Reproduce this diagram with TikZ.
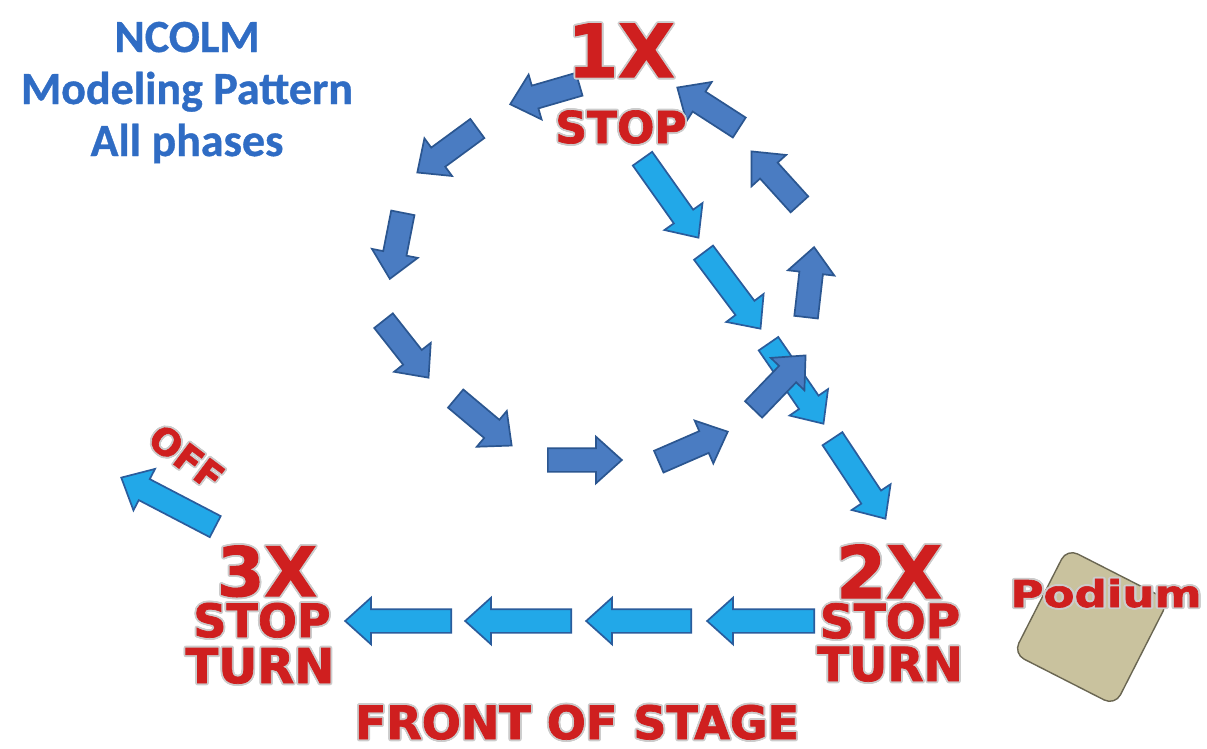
\documentclass[tikz,border=0pt]{standalone}
\usepackage{fontspec}
\usepackage{contour}
\usetikzlibrary{shapes.arrows,calc}
\newfontfamily\heavyfont{DejaVu Sans}[BoldFeatures={FakeBold=1.6}]
\newfontfamily\titlefont{Carlito}[BoldFeatures={FakeBold=0.8}]
\definecolor{dkfill}{HTML}{4A7CC2}
\definecolor{dkline}{HTML}{2B5690}
\definecolor{ltfill}{HTML}{22A8E8}
\definecolor{ltline}{HTML}{2A5C9C}
\definecolor{lblred}{HTML}{CF1F1F}
\definecolor{ttlblue}{HTML}{2F6CC4}
\definecolor{podfill}{HTML}{C9C29E}
\definecolor{podline}{HTML}{6A6652}
\contourlength{1.8pt}
\newcommand\halo[1]{\contour[16]{gray!40}{#1}}
\newcommand\blockarrow[4]{%
  \path let \p1=#3, \p2=#4, \n1={atan2(\y2-\y1,\x2-\x1)}, \n2={veclen(\x2-\x1,\y2-\y1)} in
    node[#2, minimum height=\n2, rotate=\n1, anchor=tail] (#1) at (\p1) {};}
\tikzset{
  arr/.style={single arrow, inner xsep=0pt, inner ysep=11pt, single arrow head extend=11.5pt,
    single arrow tip angle=84, line width=1.7pt, line join=miter},
  darr/.style={arr, draw=dkline, fill=dkfill},
  larr/.style={arr, draw=ltline, fill=ltfill},
  redlbl/.style={text=lblred, inner sep=0pt, anchor=base},
  ttl/.style={text=ttlblue, inner sep=0pt, anchor=base, font=\titlefont\bfseries\fontsize{46}{46}\selectfont},
}
\newcommand\heavy[1]{\heavyfont\bfseries\fontsize{#1}{#1}\selectfont}
\begin{document}
\begin{tikzpicture}[x=1pt,y=-1pt]
\useasboundingbox[fill=white] (0,0) rectangle (1207,748);
% title
\node[ttl] (t1) at (187,52) {NCOLM};
\node[ttl] (t2) at (187,104) {Modeling Pattern};
\node[ttl] (t3) at (187,156) {All phases};
% podium
\node[draw=podline, fill=podfill, line width=1.4pt, rounded corners=12pt,
      minimum width=114pt, minimum height=118pt, rotate=-27] (podium) at (1091,627) {};
% light arrows (1X -> 2X)
\blockarrow{l1}{larr}{(642,158)}{(698,237)}
\blockarrow{l2}{larr}{(703,252)}{(760,328)}
\blockarrow{l3}{larr}{(768,343)}{(823,423)}
\blockarrow{l4}{larr}{(832,438)}{(885,518)}
% light arrows (2X -> 3X)
\blockarrow{b1}{larr}{(815,621)}{(708,621)}
\blockarrow{b2}{larr}{(692,621)}{(587,621)}
\blockarrow{b3}{larr}{(572,621)}{(466,621)}
\blockarrow{b4}{larr}{(452,621)}{(346,621)}
\blockarrow{off}{larr}{(216,527)}{(122,478)}
% dark loop
\blockarrow{d1}{darr}{(580,84)}{(511,104)}
\blockarrow{d2}{darr}{(478,128)}{(418,172)}
\blockarrow{d3}{darr}{(403,212)}{(390,278)}
\blockarrow{d4}{darr}{(383,320)}{(428,377)}
\blockarrow{d5}{darr}{(455,398)}{(511,445)}
\blockarrow{d6}{darr}{(547,460)}{(621,460)}
\blockarrow{d7}{darr}{(658,462)}{(727,432)}
\blockarrow{d8}{darr}{(753,410)}{(805,356)}
\blockarrow{d9}{darr}{(806,318)}{(814,248)}
\blockarrow{d10}{darr}{(800,205)}{(752,152)}
\blockarrow{d11}{darr}{(740,128)}{(678,88)}
% red labels
\node[redlbl, font=\heavy{73}] (x1) at (621,77) {\halo{1X}};
\node[redlbl, font=\heavy{44}] (s1) at (621,143) {\halo{STOP}};
\node[redlbl, font=\heavy{72}] (x2) at (889,598) {\halo{2X}};
\node[redlbl, font=\heavy{47}] (s2) at (890,638) {\halo{STOP}};
\node[redlbl, font=\heavy{47}] (r2) at (890,681) {\halo{TURN}};
\node[redlbl, font=\heavy{68}] (x3) at (267,596) {\halo{3X}};
\node[redlbl, font=\heavy{46}] (s3) at (262,637) {\halo{STOP}};
\node[redlbl, font=\heavy{48}] (r3) at (260,683) {\halo{TURN}};
\node[redlbl, font=\heavy{37}, xscale=1.22] (pod) at (1106,607) {\halo{Podium}};
\node[redlbl, font=\heavy{46}] (front) at (577,739) {\halo{FRONT OF STAGE}};
\node[text=lblred, inner sep=0pt, font=\heavy{37}, rotate=-37] (offl) at (186,458) {\halo{OFF}};
\end{tikzpicture}
\end{document}
